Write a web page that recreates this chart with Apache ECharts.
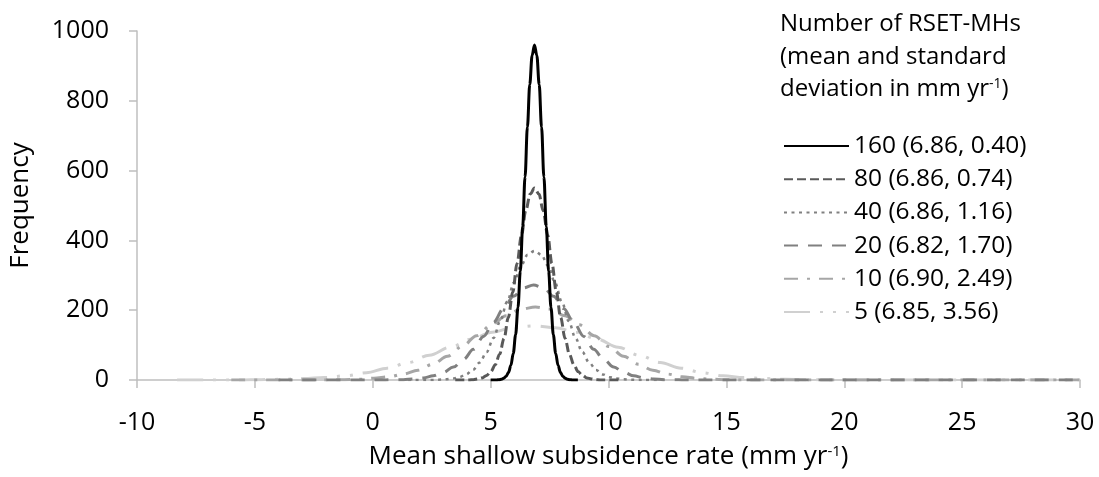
<!DOCTYPE html>
<html>
<head>
<meta charset="utf-8">
<script src="https://cdn.jsdelivr.net/npm/echarts@6/dist/echarts.min.js"></script>
<style>html,body{margin:0;padding:0;background:#fff}#c{width:1099px;height:477px}</style>
</head>
<body>
<div id="c"></div>
<script>
const seriesNames = ['160 (6.86, 0.40)', '80 (6.86, 0.74)', '40 (6.86, 1.16)', '20 (6.82, 1.70)', '10 (6.90, 2.49)', '5 (6.85, 3.56)'];
const xTicks = [-10, -5, 0, 5, 10, 15, 20, 25, 30];
const yTicks = [0, 200, 400, 600, 800, 1000];

const x160 = [5.0, 5.26, 5.36, 5.46, 5.56, 5.66, 5.76, 5.86, 5.96, 6.06, 6.16, 6.26, 6.36, 6.46, 6.56, 6.66, 6.76, 6.86, 6.96, 7.06, 7.16, 7.26, 7.36, 7.46, 7.56, 7.66, 7.76, 7.86, 7.96, 8.06, 8.16, 8.26, 8.36, 8.46, 8.7];
const y160 = [0, 0, 1, 2, 5, 11, 22, 42, 76, 130, 208, 312, 440, 582, 725, 847, 930, 960, 930, 847, 725, 582, 440, 312, 208, 130, 76, 42, 22, 11, 5, 2, 1, 0, 0];

const x80 = [3.5, 3.90, 4.09, 4.27, 4.46, 4.64, 4.83, 5.01, 5.20, 5.38, 5.57, 5.75, 5.94, 6.12, 6.31, 6.49, 6.68, 6.86, 7.05, 7.23, 7.42, 7.60, 7.79, 7.97, 8.16, 8.34, 8.53, 8.71, 8.90, 9.08, 9.27, 9.45, 9.64, 9.82, 10.5];
const y80 = [0, 0, 0, 1, 3, 6, 13, 24, 44, 74, 119, 179, 252, 334, 415, 485, 533, 550, 533, 485, 415, 334, 252, 179, 119, 74, 44, 24, 13, 6, 3, 1, 0, 0, 0];

const x40 = [1.5, 2.22, 2.51, 2.80, 3.09, 3.38, 3.67, 3.96, 4.25, 4.54, 4.83, 5.12, 5.41, 5.70, 5.99, 6.28, 6.57, 6.86, 7.15, 7.44, 7.73, 8.02, 8.31, 8.60, 8.89, 9.18, 9.47, 9.76, 10.05, 10.34, 10.63, 10.92, 11.21, 11.50, 12.5];
const y40 = [0, 0, 0, 1, 2, 4, 8, 16, 29, 50, 80, 120, 169, 224, 279, 327, 359, 370, 359, 327, 279, 224, 169, 120, 80, 50, 29, 16, 8, 4, 2, 1, 0, 0, 0];

const x20 = [-4.0, 0.02, 0.45, 0.87, 1.30, 1.72, 2.15, 2.57, 3.00, 3.42, 3.85, 4.27, 4.70, 5.12, 5.55, 5.97, 6.40, 6.82, 7.25, 7.67, 8.10, 8.52, 8.95, 9.37, 9.80, 10.22, 10.65, 11.07, 11.50, 11.92, 12.35, 12.77, 13.20, 13.62, 30];
const y20 = [0, 0, 0, 1, 1, 3, 6, 12, 22, 37, 59, 88, 125, 165, 205, 240, 264, 272, 264, 240, 205, 165, 125, 88, 59, 37, 22, 12, 6, 3, 1, 1, 0, 0, 0];

const x10 = [-6.0, -3.06, -2.44, -1.82, -1.19, -0.57, 0.05, 0.68, 1.30, 1.92, 2.54, 3.17, 3.79, 4.41, 5.03, 5.66, 6.28, 6.90, 7.52, 8.15, 8.77, 9.39, 10.01, 10.64, 11.26, 11.88, 12.50, 13.13, 13.75, 14.37, 14.99, 15.62, 16.24, 16.86, 30];
const y10 = [0, 0, 0, 0, 1, 2, 5, 9, 17, 28, 45, 68, 96, 127, 158, 184, 203, 209, 203, 184, 158, 127, 96, 68, 45, 28, 17, 9, 5, 2, 1, 0, 0, 0, 0];

const x5 = [-8.3, -7.39, -6.50, -5.61, -4.72, -3.83, -2.94, -2.05, -1.16, -0.27, 0.62, 1.51, 2.40, 3.29, 4.18, 5.07, 5.96, 6.85, 7.74, 8.63, 9.52, 10.41, 11.30, 12.19, 13.08, 13.97, 14.86, 15.75, 16.64, 17.53, 18.42, 19.31, 20.20, 21.09, 30];
const y5 = [0, 0, 0, 0, 1, 2, 4, 7, 12, 21, 34, 50, 71, 94, 117, 137, 150, 155, 150, 137, 117, 94, 71, 50, 34, 21, 12, 7, 4, 2, 1, 0, 0, 0, 0];

const xs = [x160, x80, x40, x20, x10, x5];
const ys = [y160, y80, y40, y20, y10, y5];
const styles = [
  {color: '#000000', width: 3, type: 'solid'},
  {color: '#595959', width: 3, type: [9, 4]},
  {color: '#808080', width: 2.5, type: [3, 4.5]},
  {color: '#808080', width: 3, type: [14, 10]},
  {color: '#a6a6a6', width: 3, type: [14, 9, 3, 9]},
  {color: '#d0d0d0', width: 3, type: [26, 10, 3, 10, 3, 10]}
];

const FONT = '"Open Sans"';
const chart = echarts.init(document.getElementById('c'), null, {renderer: 'canvas'});
chart.setOption({
  animation: false,
  backgroundColor: '#fff',
  textStyle: {fontFamily: FONT, color: '#000'},
  title: {
    left: 780, top: 8, padding: 0,
    text: 'Number of RSET-MHs\n(mean and standard\ndeviation in mm yr{sup|-1})',
    textStyle: {fontFamily: FONT, fontSize: 24, fontWeight: 'normal', color: '#000', lineHeight: 32.5,
      rich: {sup: {fontFamily: FONT, fontSize: 14, color: '#000', padding: [0, 0, 10, 0], lineHeight: 32.5}}}
  },
  legend: {
    orient: 'vertical', left: 778, top: 124.5,
    itemWidth: 65, itemHeight: 14, itemGap: 0.2,
    itemStyle: {opacity: 0},
    textStyle: {fontFamily: FONT, fontSize: 24.5, color: '#000', lineHeight: 33},
    data: seriesNames
  },
  grid: {left: 133, right: 19, top: 31, bottom: 97, containLabel: false},
  xAxis: {
    type: 'value', min: -10, max: 30, interval: 5,
    name: 'Mean shallow subsidence rate (mm yr{sup|-1})',
    nameLocation: 'middle', nameGap: 64,
    nameTextStyle: {fontFamily: FONT, fontSize: 26, color: '#000',
      rich: {sup: {fontFamily: FONT, fontSize: 15, color: '#000', padding: [0, 0, 11, 0]}}},
    axisLine: {show: true, onZero: false, lineStyle: {color: '#bfbfbf', width: 1.5}},
    axisTick: {show: true, inside: false, length: 8, lineStyle: {color: '#bfbfbf', width: 1.5}},
    axisLabel: {fontFamily: FONT, fontSize: 25, color: '#000', margin: 30,
      formatter: v => xTicks.includes(v) ? String(v) : ''},
    splitLine: {show: false}
  },
  yAxis: {
    type: 'value', min: 0, max: 1000, interval: 200,
    name: 'Frequency', nameLocation: 'middle', nameGap: 103,
    nameTextStyle: {fontFamily: FONT, fontSize: 26, color: '#000'},
    axisLine: {show: true, onZero: false, lineStyle: {color: '#bfbfbf', width: 1.5}},
    axisTick: {show: true, inside: false, length: 8, lineStyle: {color: '#bfbfbf', width: 1.5}},
    axisLabel: {fontFamily: FONT, fontSize: 25, color: '#000', margin: 28,
      formatter: v => yTicks.includes(v) ? String(v) : ''},
    splitLine: {show: false}
  },
  series: seriesNames.map((n, i) => ({
    name: n, type: 'line', symbol: 'none', showSymbol: false,
    smooth: 0.35, smoothMonotone: 'x',
    z: 10 - i,
    lineStyle: {color: styles[i].color, width: styles[i].width, type: styles[i].type, cap: 'butt'},
    itemStyle: {color: styles[i].color},
    data: xs[i].map((x, k) => [x, ys[i][k]])
  }))
});
</script>
</body>
</html>
